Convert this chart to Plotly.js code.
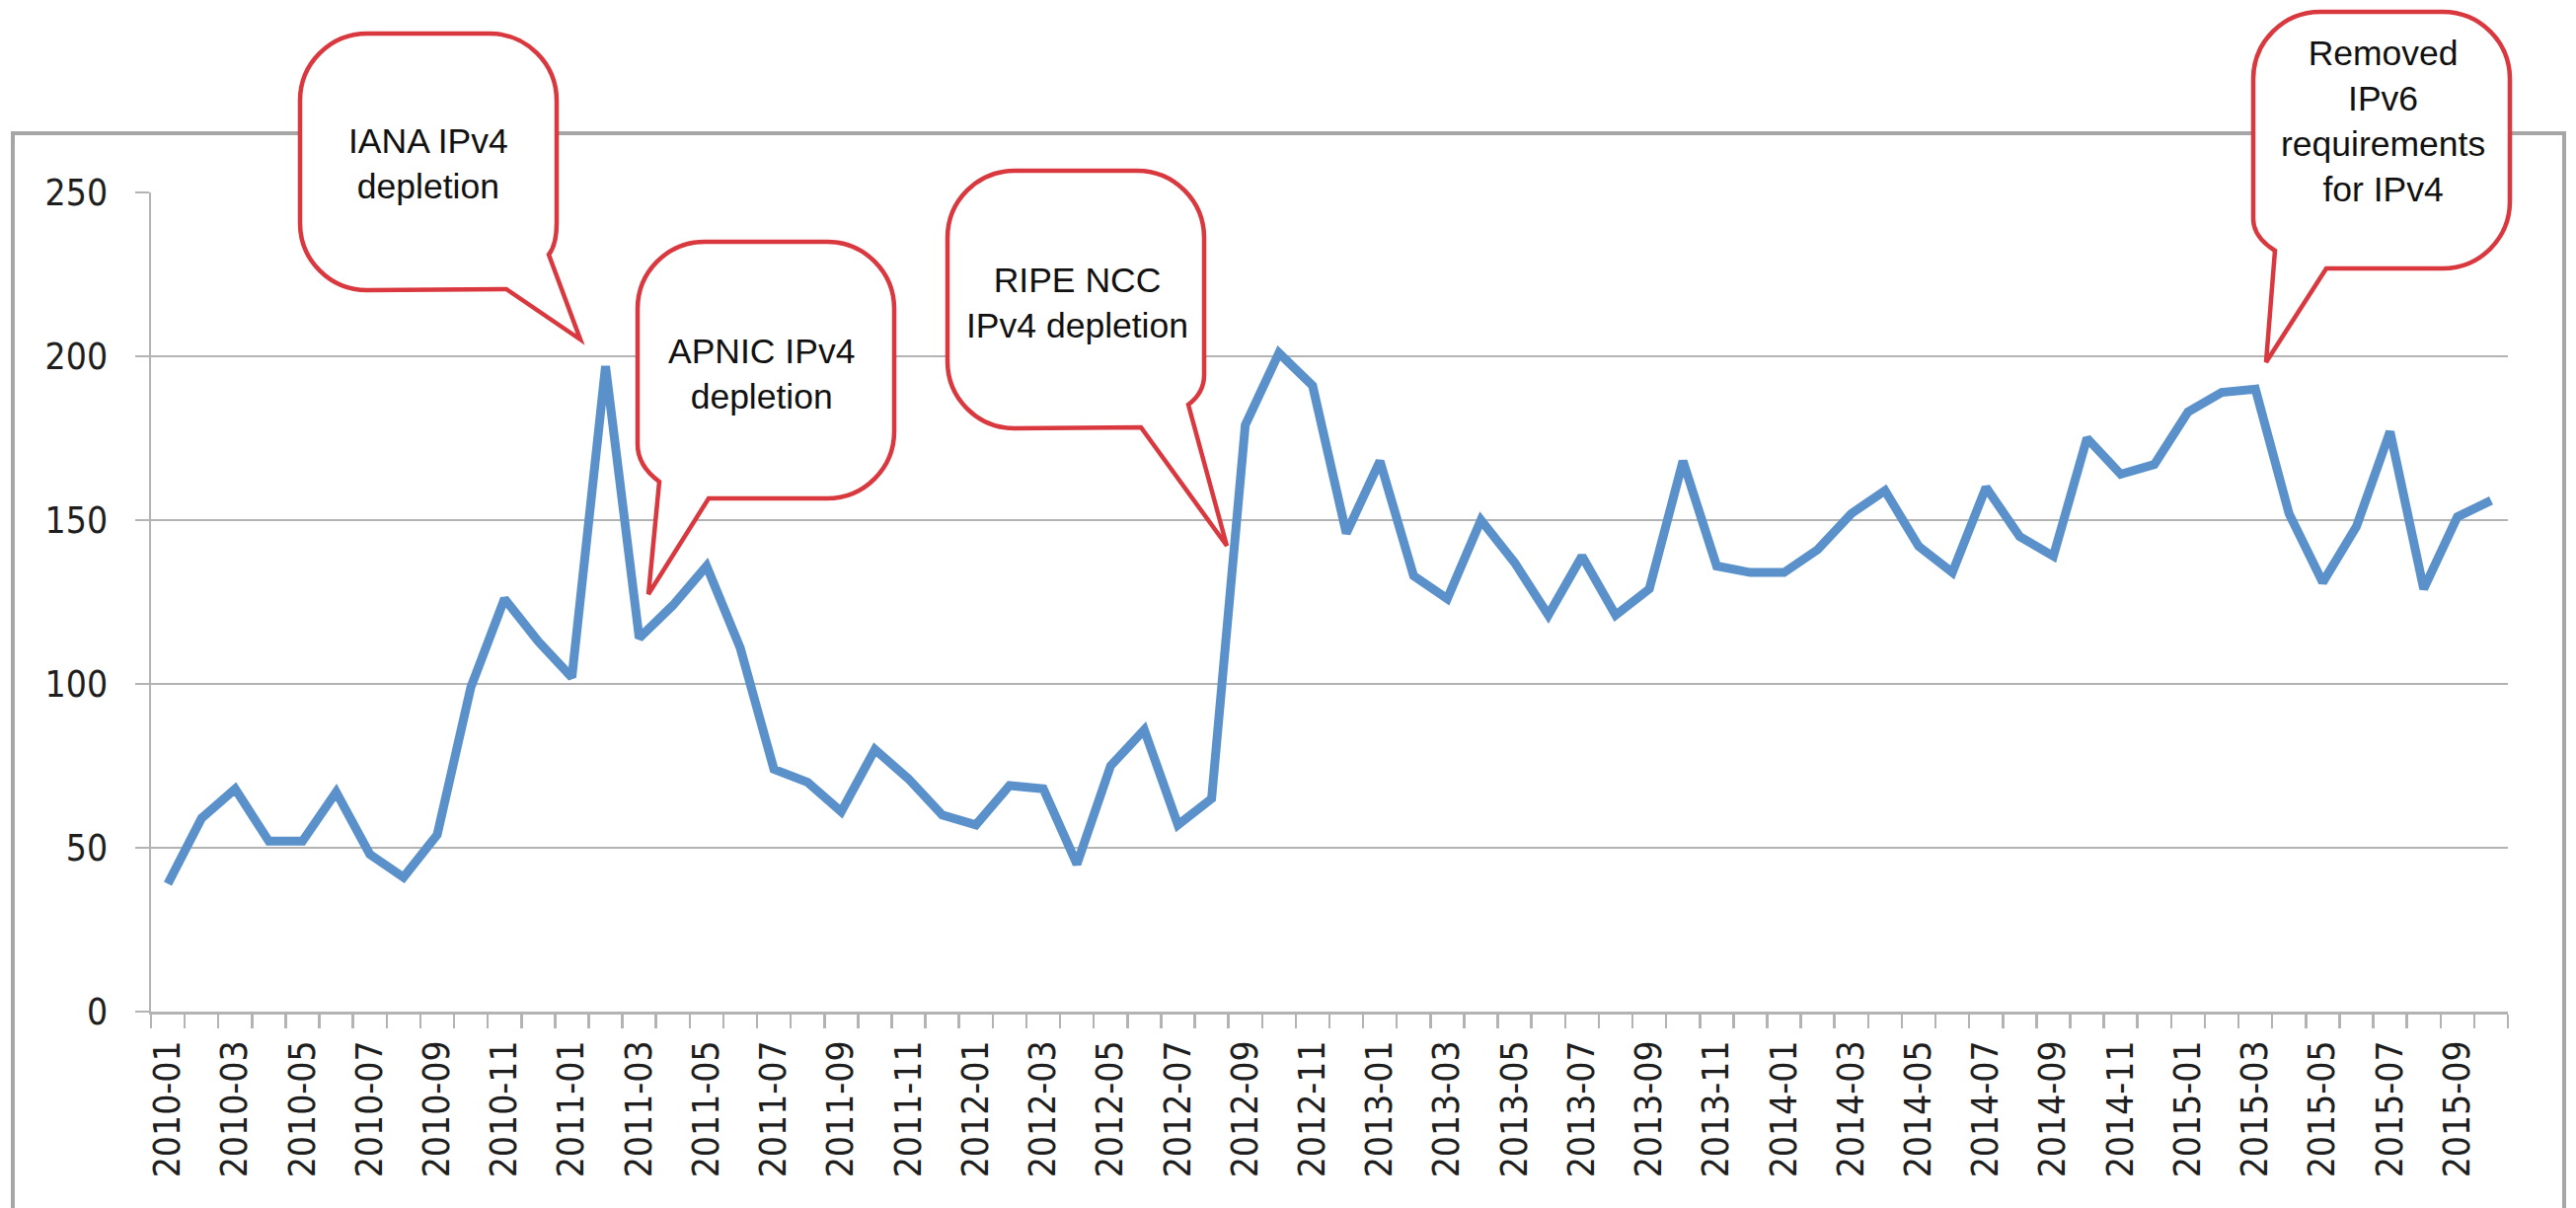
<!DOCTYPE html>
<html>
<head>
<meta charset="utf-8">
<script src="https://cdn.plot.ly/plotly-3.0.1.min.js"></script>
<style>html,body{margin:0;padding:0;background:#fff;}#chart{width:2610px;height:1224px;}</style>
</head>
<body>
<div id="chart"></div>
<script>
// ---- data ----
const months = [
  "2010-01","2010-02","2010-03","2010-04","2010-05","2010-06","2010-07","2010-08","2010-09","2010-10","2010-11","2010-12",
  "2011-01","2011-02","2011-03","2011-04","2011-05","2011-06","2011-07","2011-08","2011-09","2011-10","2011-11","2011-12",
  "2012-01","2012-02","2012-03","2012-04","2012-05","2012-06","2012-07","2012-08","2012-09","2012-10","2012-11","2012-12",
  "2013-01","2013-02","2013-03","2013-04","2013-05","2013-06","2013-07","2013-08","2013-09","2013-10","2013-11","2013-12",
  "2014-01","2014-02","2014-03","2014-04","2014-05","2014-06","2014-07","2014-08","2014-09","2014-10","2014-11","2014-12",
  "2015-01","2015-02","2015-03","2015-04","2015-05","2015-06","2015-07","2015-08","2015-09","2015-10"
];
const counts = [
  39, 59, 68, 52, 52, 67, 48, 41, 54, 99, 126, 113,
  102, 197, 114, 124, 136, 111, 74, 70, 61, 80, 71, 60,
  57, 69, 68, 45, 75, 86, 57, 65, 179, 201, 191, 146,
  168, 133, 126, 150, 137, 121, 139, 121, 129, 168, 136, 134,
  134, 141, 152, 159, 142, 134, 160, 145, 139, 175, 164, 167,
  183, 189, 190, 152, 131, 148, 177, 129, 151, 156
];
const tickLabels = [
  "2010-01","2010-03","2010-05","2010-07","2010-09","2010-11",
  "2011-01","2011-03","2011-05","2011-07","2011-09","2011-11",
  "2012-01","2012-03","2012-05","2012-07","2012-09","2012-11",
  "2013-01","2013-03","2013-05","2013-07","2013-09","2013-11",
  "2014-01","2014-03","2014-05","2014-07","2014-09","2014-11",
  "2015-01","2015-03","2015-05","2015-07","2015-09"
];
const yTicks = [0, 50, 100, 150, 200, 250];
const callouts = [
  "IANA IPv4<br>depletion",
  "APNIC IPv4<br>depletion",
  "RIPE NCC<br>IPv4 depletion",
  "Removed<br>IPv6<br>requirements<br>for IPv4"
];

// ---- layout helpers (pixel -> paper) ----
const W = 2610, H = 1224;
const PL = 153, PR = 2541, PT = 195, PB = 1025;
function px(x) { return ((x - PL) / (PR - PL)).toFixed(5); }
function py(y) { return ((PB - y) / (PB - PT)).toFixed(5); }
function pt(x, y) { return px(x) + ',' + py(y); }
function path(segs) {
  return segs.map(s => {
    const c = s[0];
    if (c === 'Z') return 'Z';
    const nums = s.slice(1);
    const pairs = [];
    for (let i = 0; i < nums.length; i += 2) pairs.push(pt(nums[i], nums[i + 1]));
    return c + ' ' + pairs.join(' ');
  }).join(' ');
}

const bubbleSegs = [
  [['M',372,34],['L',496,34],['C',533.6,34,564,64.4,564,102],['L',564,226],['Q',564,248,556,258],
   ['L',588,344],['L',513,293],['L',372,294],['C',334.4,294,304,263.6,304,226],['L',304,102],
   ['C',304,64.4,334.4,34,372,34],['Z']],
  [['M',714,245],['L',838,245],['C',875.6,245,906,275.4,906,313],['L',906,437],['C',906,474.6,875.6,505,838,505],
   ['L',718,505],['L',657,602],['L',668,488],['Q',646,472,646,450],['L',646,313],
   ['C',646,275.4,676.4,245,714,245],['Z']],
  [['M',1028,173],['L',1152,173],['C',1189.6,173,1220,203.4,1220,241],['L',1220,380],['Q',1220,398,1204,410],
   ['L',1243,553],['L',1156,433],['L',1028,434],['C',990.4,434,960,403.6,960,366],['L',960,241],
   ['C',960,203.4,990.4,173,1028,173],['Z']],
  [['M',2351,12],['L',2475,12],['C',2512.6,12,2543,42.4,2543,80],['L',2543,204],['C',2543,241.6,2512.6,272,2475,272],
   ['L',2357,272],['L',2296,367],['L',2305,254],['Q',2283,240,2283,222],['L',2283,80],
   ['C',2283,42.4,2313.4,12,2351,12],['Z']]
];
const textPos = [[434, 166], [772, 379], [1091, 307], [2414, 123]];

const shapes = [{
  type: 'rect', xref: 'paper', yref: 'paper', layer: 'above',
  x0: px(13), x1: px(2598), y0: py(135), y1: py(1300),
  line: { color: '#a6a6a6', width: 4 }, fillcolor: 'rgba(0,0,0,0)'
}];
bubbleSegs.forEach(s => shapes.push({
  type: 'path', xref: 'paper', yref: 'paper', layer: 'above',
  path: path(s), fillcolor: '#ffffff', line: { color: '#d9383f', width: 4.5 }
}));

const annotations = callouts.map((t, i) => ({
  xref: 'paper', yref: 'paper', x: px(textPos[i][0]), y: py(textPos[i][1]),
  xanchor: 'center', yanchor: 'middle', showarrow: false, align: 'center',
  text: t, font: { family: 'Liberation Sans, Arial, sans-serif', size: 35.5, color: '#111' }
}));

const trace = {
  type: 'scatter', mode: 'lines', x: months, y: counts,
  line: { color: '#5a91cb', width: 9 }, hoverinfo: 'skip', showlegend: false
};

const gridCol = '#b3b3b3';
const tickFont = { family: 'DejaVu Sans Condensed, DejaVu Sans, sans-serif', size: 37, color: '#1e1e1e' };
const layout = {
  width: W, height: H,
  margin: { l: PL, r: W - PR, t: PT, b: H - PB },
  paper_bgcolor: '#ffffff', plot_bgcolor: '#ffffff',
  showlegend: false,
  font: { family: 'DejaVu Sans Condensed, DejaVu Sans, sans-serif', color: '#1e1e1e' },
  xaxis: {
    type: 'category', categoryorder: 'array', categoryarray: months,
    range: [-0.5, months.length - 0.5],
    tickmode: 'array', tickvals: months,
    ticktext: months.map(m => tickLabels.includes(m) ? m : ''),
    tickson: 'boundaries', ticks: 'outside', ticklen: 14, tickwidth: 2.5, tickcolor: gridCol,
    showline: true, linecolor: gridCol, linewidth: 2.5,
    showgrid: false, zeroline: false, tickangle: -90,
    tickfont: tickFont, ticklabelstandoff: 12, automargin: false
  },
  yaxis: {
    range: [0, 250], tickmode: 'array', tickvals: yTicks,
    ticks: 'outside', ticklen: 14, tickwidth: 2.5, tickcolor: gridCol,
    showline: true, linecolor: gridCol, linewidth: 2.5,
    showgrid: true, gridcolor: gridCol, gridwidth: 2.5, zeroline: false,
    tickfont: tickFont, ticklabelstandoff: 20, automargin: false
  },
  shapes: shapes,
  annotations: annotations
};

Plotly.newPlot('chart', [trace], layout, { staticPlot: true, displayModeBar: false });
</script>
</body>
</html>
